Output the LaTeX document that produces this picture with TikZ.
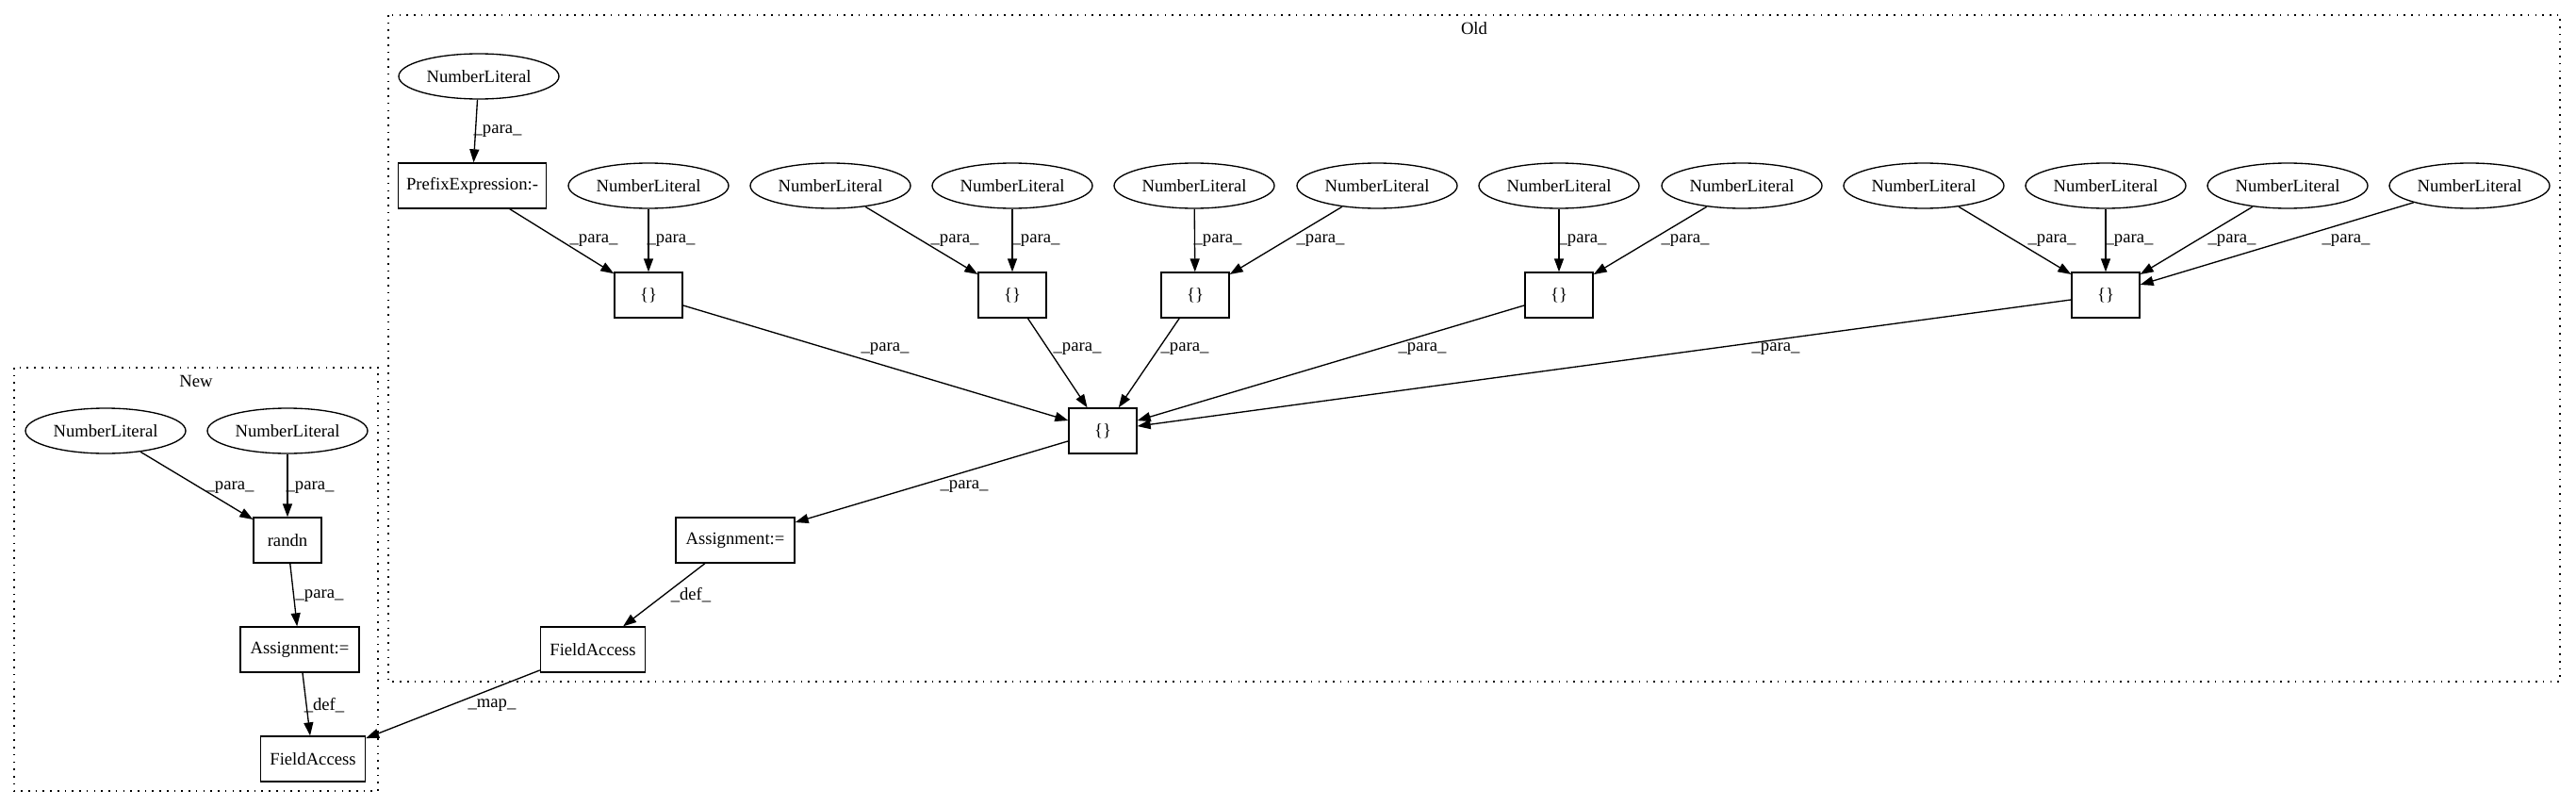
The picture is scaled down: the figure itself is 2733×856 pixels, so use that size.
\documentclass[tikz,border=0pt]{standalone}
\usepackage{fontspec}
\setmainfont{Liberation Serif}
\usetikzlibrary{shapes.geometric,arrows.meta}
\begin{document}
\begin{tikzpicture}[x=0.75pt,y=-0.75pt,
  every node/.style={font=\fontsize{14pt}{16pt}\selectfont},
  lit/.style={draw,ellipse,line width=1pt,inner sep=0pt,minimum width=127.5pt,minimum height=36pt},
  boxn/.style={draw,rectangle,line width=1pt,inner sep=0pt,minimum height=36pt},
  edge/.style={line width=1pt,-{Triangle[length=10.5pt,width=7.5pt]}},
  lbl/.style={inner sep=0pt},
  clus/.style={line width=1.2pt,dash pattern=on 1.2pt off 4.6pt}]
\useasboundingbox (0,0) rectangle (2733,856);
% clusters
\draw[clus] (412,16) rectangle (2716,723);
\node[lbl] (oldlbl) at (1564,30) {Old};
\draw[clus] (15,390) rectangle (401,839);
\node[lbl] (newlbl) at (208,404) {New};
% Old nodes
\node[lit] (nt) at (508,81) {NumberLiteral};
\node[boxn,minimum width=117.75pt] (pre) at (501,197) {PrefixExpression:-};
\node[lit] (n2) at (688,197) {NumberLiteral};
\node[lit] (n3) at (881,197) {NumberLiteral};
\node[lit] (n4) at (1074,197) {NumberLiteral};
\node[lit] (n5) at (1267,197) {NumberLiteral};
\node[lit] (n6) at (1461,197) {NumberLiteral};
\node[lit] (n7) at (1654,197) {NumberLiteral};
\node[lit] (n8) at (1848,197) {NumberLiteral};
\node[lit] (n9) at (2041,197) {NumberLiteral};
\node[lit] (n10) at (2234,197) {NumberLiteral};
\node[lit] (n11) at (2427,197) {NumberLiteral};
\node[lit] (n12) at (2620,197) {NumberLiteral};
\node[boxn,minimum width=54pt] (b1) at (688,313) {\{\}};
\node[boxn,minimum width=54pt] (b2) at (1074,313) {\{\}};
\node[boxn,minimum width=54pt] (b3) at (1268,313) {\{\}};
\node[boxn,minimum width=54pt] (b4) at (1654,313) {\{\}};
\node[boxn,minimum width=54pt] (b5) at (2234,313) {\{\}};
\node[boxn,minimum width=54pt] (bm) at (1170,457) {\{\}};
\node[boxn,minimum width=94.5pt] (asgo) at (780,573) {Assignment:=};
\node[boxn,minimum width=83.25pt] (fao) at (629,689) {FieldAccess};
% New nodes
\node[lit] (na) at (112,457) {NumberLiteral};
\node[lit] (nb) at (305,457) {NumberLiteral};
\node[boxn,minimum width=54pt] (rnd) at (305,573) {randn};
\node[boxn,minimum width=94.5pt] (asgn) at (318,689) {Assignment:=};
\node[boxn,minimum width=83.25pt] (fan) at (332,805) {FieldAccess};
% Old edges
\draw[edge] (nt) -- (pre);
\draw[edge] (pre) -- (b1);
\draw[edge] (n2) -- (b1);
\draw[edge] (n3) -- (b2);
\draw[edge] (n4) -- (b2);
\draw[edge] (n5) -- (b3);
\draw[edge] (n6) -- (b3);
\draw[edge] (n7) -- (b4);
\draw[edge] (n8) -- (b4);
\draw[edge] (n9) -- (b5);
\draw[edge] (n10) -- (b5);
\draw[edge] (n11) -- (b5);
\draw[edge] (n12) -- (b5);
\draw[edge] (b1) -- (bm);
\draw[edge] (b2) -- (bm);
\draw[edge] (b3) -- (bm);
\draw[edge] (b4) -- (bm);
\draw[edge] (b5) -- (bm);
\draw[edge] (bm) -- (asgo);
\draw[edge] (asgo) -- (fao);
\draw[edge] (fao) -- (fan);
% New edges
\draw[edge] (na) -- (rnd);
\draw[edge] (nb) -- (rnd);
\draw[edge] (rnd) -- (asgn);
\draw[edge] (asgn) -- (fan);
% labels
\node[lbl] (l1) at (528,139) {\_para\_};
\node[lbl] (l2) at (630,255) {\_para\_};
\node[lbl] (l3) at (712,255) {\_para\_};
\node[lbl] (l4) at (1013,255) {\_para\_};
\node[lbl] (l5) at (1099,255) {\_para\_};
\node[lbl] (l6) at (1292,255) {\_para\_};
\node[lbl] (l7) at (1401,255) {\_para\_};
\node[lbl] (l8) at (1679,255) {\_para\_};
\node[lbl] (l9) at (1788,255) {\_para\_};
\node[lbl] (l10) at (2177,255) {\_para\_};
\node[lbl] (l11) at (2259,255) {\_para\_};
\node[lbl] (l12) at (2368,255) {\_para\_};
\node[lbl] (l13) at (2489,255) {\_para\_};
\node[lbl] (l14) at (939,370) {\_para\_};
\node[lbl] (l15) at (1143,370) {\_para\_};
\node[lbl] (l16) at (1257,370) {\_para\_};
\node[lbl] (l17) at (1509,370) {\_para\_};
\node[lbl] (l18) at (1884,370) {\_para\_};
\node[lbl] (l19) at (1023,516) {\_para\_};
\node[lbl] (l20) at (733,631) {\_def\_};
\node[lbl] (l21) at (522,748) {\_map\_};
\node[lbl] (l22) at (244,517) {\_para\_};
\node[lbl] (l23) at (329,517) {\_para\_};
\node[lbl] (l24) at (339,632) {\_para\_};
\node[lbl] (l25) at (344,748) {\_def\_};
\end{tikzpicture}
\end{document}
